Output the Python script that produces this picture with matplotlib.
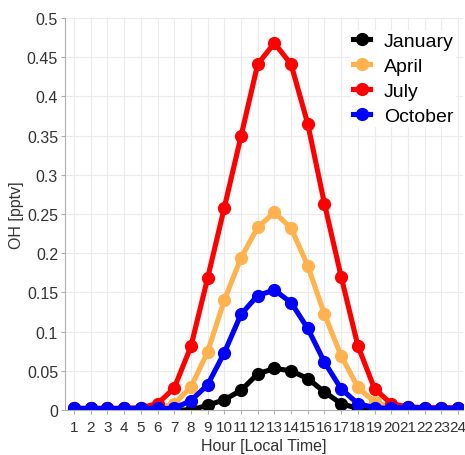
import matplotlib.pyplot as plt
from matplotlib.ticker import FuncFormatter
import numpy as np

plt.rcParams['font.family'] = ['Liberation Sans', 'DejaVu Sans']

hours = list(range(1, 25))
months = ['January', 'April', 'July', 'October']
colors = ['#000000', '#ffb24d', '#ff0000', '#0000ff']

january = [0.0, 0.0, 0.0, 0.0, 0.0, 0.0, 0.0, 0.0, 0.006, 0.013, 0.025, 0.046,
           0.053, 0.050, 0.040, 0.023, 0.008, 0.002, 0.001, 0.001, 0.001, 0.001, 0.001, 0.001]
april = [0.002, 0.002, 0.002, 0.002, 0.002, 0.002, 0.008, 0.029, 0.074, 0.140, 0.194, 0.233,
         0.252, 0.232, 0.184, 0.122, 0.069, 0.029, 0.010, 0.003, 0.002, 0.002, 0.002, 0.002]
july = [0.002, 0.002, 0.002, 0.002, 0.003, 0.008, 0.028, 0.081, 0.168, 0.258, 0.349, 0.441,
        0.468, 0.441, 0.365, 0.263, 0.170, 0.082, 0.027, 0.008, 0.004, 0.003, 0.003, 0.003]
october = [0.002, 0.002, 0.002, 0.002, 0.002, 0.002, 0.002, 0.012, 0.032, 0.073, 0.122, 0.146,
           0.153, 0.137, 0.104, 0.061, 0.027, 0.008, 0.003, 0.002, 0.004, 0.002, 0.002, 0.002]
series = [january, april, july, october]

fig = plt.figure(figsize=(4.65, 4.56), dpi=100)
ax = fig.add_axes([0.1398, 0.0987, 0.856, 0.8596])

for name, vals, c in zip(months, series, colors):
    ax.plot(hours, vals, color=c, lw=3.7, marker='o', ms=8.5, label=name)

ax.set_xlim(0.46, 24.3)
ax.set_ylim(0, 0.5)
ax.set_xticks(hours)
ax.set_yticks(np.arange(0, 0.501, 0.05))
ax.yaxis.set_major_formatter(FuncFormatter(lambda v, p: '%g' % round(v, 2)))

ax.grid(True, color='#ebebeb', lw=0.8)
ax.set_axisbelow(True)
for s in ['top', 'right']:
    ax.spines[s].set_visible(False)
for s in ['left', 'bottom']:
    ax.spines[s].set_color('#b0b0b0')
    ax.spines[s].set_linewidth(0.8)
ax.tick_params(colors='#b0b0b0', labelcolor='#333333', labelsize=11.5, length=3, width=0.8)
ax.tick_params(axis='x', pad=4, labelsize=11)
ax.tick_params(axis='y', pad=2)

ax.set_xlabel('Hour [Local Time]', fontsize=11.5, color='#333333', labelpad=3)
ax.set_ylabel('OH [pptv]', fontsize=11.5, color='#333333', labelpad=2)

leg = ax.legend(loc='upper left', bbox_to_anchor=(351 / 465, 1 - 31 / 456),
                bbox_transform=fig.transFigure, frameon=True, fontsize=14,
                handlelength=0.9, labelspacing=0.38, borderpad=0.1, borderaxespad=0,
                handletextpad=0.7)
leg.get_frame().set_edgecolor('none')
leg.get_frame().set_facecolor('white')
leg.get_frame().set_alpha(1)

fig.savefig('out.png', dpi=100)
